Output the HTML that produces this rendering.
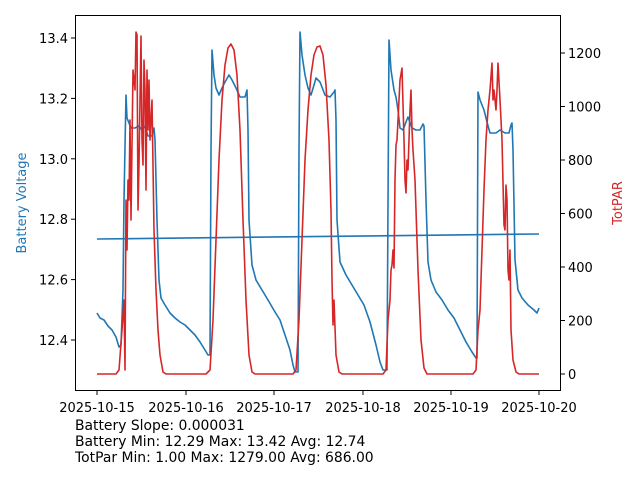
<!DOCTYPE html>
<html><head><meta charset="utf-8"><style>
html,body{margin:0;padding:0;background:#fff;}
svg{display:block;font-family:"DejaVu Sans","Liberation Sans",sans-serif;}
</style></head><body>
<svg width="640" height="480" viewBox="0 0 640 480" xmlns="http://www.w3.org/2000/svg">
<rect width="640" height="480" fill="#fff"/>
<g fill="none" stroke-width="1.6" stroke-linejoin="round">
<polyline stroke="#1f77b4" points="97,239 539,234"/>
<polyline stroke="#1f77b4" points="97,313 100,318 104,320 108,326 112,330 116,337 119,347 121,345 123,290 124,200 126,95 127,118 129,123 131,128 135,128 139,126 142,130 145,126 148,136 152,136 154,128 155,140 157,220 159,280 161,298 165,305 170,313 175,318 180,322 185,325 190,330 195,335 200,342 205,350 208,355 210,355 211,150 212,50 214,75 216,88 219,95 222,88 225,82 229,75 232,80 236,88 240,97 245,97 247,90 248,130 249,220 252,265 256,280 262,290 268,300 275,312 280,320 285,335 290,350 293,365 295,372 298,372 299,150 300,32 302,55 305,75 308,88 311,95 314,85 316,78 320,82 325,95 330,97 334,92 335,90 336,120 337,220 340,262 346,275 352,285 358,295 364,305 370,322 376,345 380,362 383,370 387,370 389,40 391,70 394,90 396,97 398,110 400,128 403,130 406,122 408,117 412,128 416,130 420,130 423,124 424,126 426,200 428,262 431,280 436,292 442,300 448,310 454,318 460,330 466,342 472,352 476,358 477,358 478,92 480,100 484,110 487,122 490,133 496,133 500,130 505,133 509,133 511,125 512,123 513,150 515,260 518,290 522,298 528,305 534,310 537,313 539,308"/>
<polyline stroke="#d62728" points="97,374 116,374 119,370 122,330 124,300 125,370 126,200 127,250 128,180 129,200 130,120 131,220 133,70 135,90 136,32 137,35 138,210 139,165 141,36 142,140 143,165 144,60 145,90 146,190 147,70 148,130 149,80 150,140 152,100 154,230 156,290 158,330 160,355 163,372 166,374 206,374 210,370 213,320 216,240 219,160 222,100 225,65 228,48 231,44 234,50 237,75 240,130 243,220 246,300 249,355 252,372 255,374 293,374 296,370 299,320 302,240 305,160 308,110 311,75 314,55 317,47 320,46 323,55 326,85 329,140 331,210 332,280 333,325 334,300 336,355 339,372 342,374 383,374 386,370 388,320 390,300 391,270 392,265 393,250 394,268 395,180 396,145 397,140 398,120 400,80 402,68 404,140 405,180 406,193 407,160 408,170 409,140 410,110 411,90 412,130 413,150 415,180 418,270 421,340 424,368 427,374 473,374 476,370 478,330 480,310 482,250 484,190 486,140 488,110 490,90 492,63 493,100 494,90 496,110 497,90 498,63 500,100 502,140 504,225 505,230 506,185 507,200 508,270 509,280 510,250 511,330 513,360 516,372 519,374 539,374"/>
</g>
<rect x="75.5" y="15.5" width="485" height="375" fill="none" stroke="#000" stroke-width="1"/>
<g stroke="#000" stroke-width="1">
<line x1="97" y1="391" x2="97" y2="395"/><line x1="186" y1="391" x2="186" y2="395"/><line x1="274" y1="391" x2="274" y2="395"/><line x1="363" y1="391" x2="363" y2="395"/><line x1="451" y1="391" x2="451" y2="395"/><line x1="539" y1="391" x2="539" y2="395"/>
<line x1="71" y1="340" x2="75" y2="340"/><line x1="71" y1="279.6" x2="75" y2="279.6"/><line x1="71" y1="219.2" x2="75" y2="219.2"/><line x1="71" y1="158.8" x2="75" y2="158.8"/><line x1="71" y1="98.4" x2="75" y2="98.4"/><line x1="71" y1="38" x2="75" y2="38"/>
<line x1="561" y1="374" x2="565" y2="374"/><line x1="561" y1="320.5" x2="565" y2="320.5"/><line x1="561" y1="267" x2="565" y2="267"/><line x1="561" y1="213.5" x2="565" y2="213.5"/><line x1="561" y1="160" x2="565" y2="160"/><line x1="561" y1="106.5" x2="565" y2="106.5"/><line x1="561" y1="53" x2="565" y2="53"/>
</g>
<g font-size="13" fill="#000">
<g text-anchor="middle">
<text x="97" y="412">2025-10-15</text><text x="186" y="412">2025-10-16</text><text x="274" y="412">2025-10-17</text><text x="363" y="412">2025-10-18</text><text x="451" y="412">2025-10-19</text><text x="539" y="412">2025-10-20</text>
</g>
<g text-anchor="end">
<text x="68" y="345">12.4</text><text x="68" y="284.6">12.6</text><text x="68" y="224.2">12.8</text><text x="68" y="163.8">13.0</text><text x="68" y="103.4">13.2</text><text x="68" y="43">13.4</text>
</g>
<g text-anchor="start">
<text x="568" y="379">0</text><text x="568" y="325.5">200</text><text x="568" y="272">400</text><text x="568" y="218.5">600</text><text x="568" y="165">800</text><text x="568" y="111.5">1000</text><text x="568" y="58">1200</text>
</g>
<text transform="translate(26,203) rotate(-90)" text-anchor="middle" fill="#1f77b4">Battery Voltage</text>
<text transform="translate(622,203) rotate(-90)" text-anchor="middle" fill="#d62728">TotPAR</text>
<g font-size="13.9">
<text x="75" y="430">Battery Slope: 0.000031</text>
<text x="75" y="446">Battery Min: 12.29 Max: 13.42 Avg: 12.74</text>
<text x="75" y="462">TotPar Min: 1.00 Max: 1279.00 Avg: 686.00</text>
</g>
</g>
</svg>
</body></html>
